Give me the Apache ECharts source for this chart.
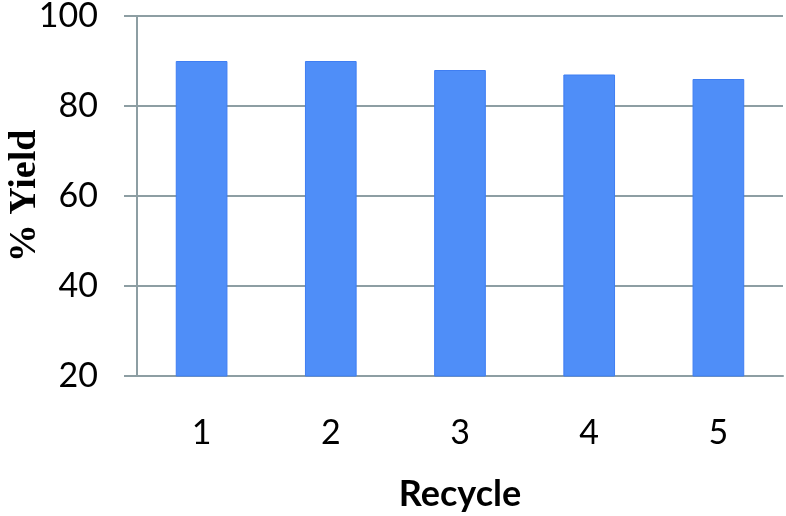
<!DOCTYPE html>
<html><head><meta charset="utf-8">
<script src="https://cdn.jsdelivr.net/npm/echarts@6/dist/echarts.min.js"></script>
<style>html,body{margin:0;padding:0;background:#fff}#c{width:786px;height:516px}</style>
</head><body><div id="c"></div>
<script>
const categories = ['1', '2', '3', '4', '5'];
const yieldValues = [90, 90, 88, 87, 86];
const yTicks = [20, 40, 60, 80, 100];

const axisColor = '#8d9ea3';
const chart = echarts.init(document.getElementById('c'), null, {renderer: 'canvas'});
chart.setOption({
  animation: false,
  backgroundColor: '#ffffff',
  grid: {left: 137, right: 3, top: 16, bottom: 140, containLabel: false, outerBoundsMode: 'none'},
  xAxis: {
    type: 'category',
    data: categories,
    name: 'Recycle',
    nameLocation: 'middle',
    nameGap: 100,
    nameMoveOverlap: false,
    nameTextStyle: {fontFamily: 'Lato', fontWeight: 'bold', fontSize: 36, color: '#000'},
    axisLine: {lineStyle: {color: axisColor, width: 2}},
    axisTick: {show: false},
    axisLabel: {fontFamily: 'Lato', fontSize: 34, color: '#000', margin: 40}
  },
  yAxis: {
    type: 'value',
    min: yTicks[0],
    max: yTicks[yTicks.length - 1],
    interval: 20,
    name: '% Yield',
    nameLocation: 'middle',
    nameGap: 112,
    nameMoveOverlap: false,
    nameRotate: 90,
    nameTextStyle: {fontFamily: 'Liberation Serif', fontWeight: 'bold', fontSize: 38, color: '#000', verticalAlign: 'middle'},
    axisLine: {show: true, lineStyle: {color: axisColor, width: 2}},
    axisTick: {show: true, length: 13, lineStyle: {color: axisColor, width: 2}},
    axisLabel: {fontFamily: 'Lato', fontSize: 34, color: '#000', margin: 39},
    splitLine: {show: true, lineStyle: {color: axisColor, width: 2}}
  },
  series: [{
    type: 'bar',
    data: yieldValues,
    barWidth: '40%',
    itemStyle: {color: '#4f8ef8', borderColor: '#3f7ef2', borderWidth: 1}
  }]
});
</script></body></html>
